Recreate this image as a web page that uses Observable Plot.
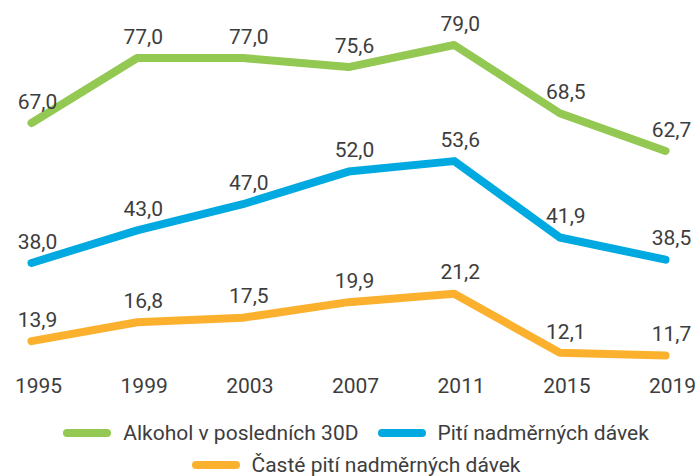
<!DOCTYPE html>
<html><head><meta charset="utf-8">
<script src="https://cdn.jsdelivr.net/npm/d3@7"></script>
<script src="https://cdn.jsdelivr.net/npm/@observablehq/plot@0.6"></script>
<style>
body{margin:0;background:#fff;font-family:Roboto,sans-serif;}
#legend{display:flex;flex-wrap:wrap;justify-content:center;width:640px;margin:7px 0 0 36px;column-gap:19px;}
.item{display:flex;align-items:center;height:32px;font-size:21px;color:#3d3d3d;white-space:nowrap;}
.sw{width:48px;height:8px;border-radius:4px;margin-right:12px;}
</style></head><body><div id="chart"></div><div id="legend"></div>
<script>
const years = [1995, 1999, 2003, 2007, 2011, 2015, 2019];
const seriesNames = ["Alkohol v posledních 30D", "Pití nadměrných dávek", "Časté pití nadměrných dávek"];
const colors = ["#93c852", "#00a9e0", "#fbb12e"];
const alkohol = [67.0, 77.0, 77.0, 75.6, 79.0, 68.5, 62.7];
const pitiNadmernych = [38.0, 43.0, 47.0, 52.0, 53.6, 41.9, 38.5];
const castePiti = [13.9, 16.8, 17.5, 19.9, 21.2, 12.1, 11.7];
const seriesValues = [alkohol, pitiNadmernych, castePiti];

const data = seriesNames.flatMap((s, k) => years.map((y, i) => ({year: y, series: s, value: seriesValues[k][i]})));

const plot = Plot.plot({
  width: 697, height: 410,
  marginLeft: 31, marginRight: 32, marginTop: 0, marginBottom: 35,
  style: {fontFamily: "Roboto, sans-serif", fontSize: "21px", color: "#3d3d3d", background: "#fff"},
  x: {domain: [1995, 2019]},
  y: {type: "linear", domain: [10, 22, 37, 54, 62, 80], range: [366, 288, 269, 158, 155, 38], axis: null},
  color: {domain: seriesNames, range: colors},
  marks: [
    Plot.axisX({ticks: years, tickFormat: d => String(d), tickSize: 0, tickPadding: 3, dx: 7, label: null, fontSize: 21, fill: "#3d3d3d"}),
    Plot.line(data, {x: "year", y: "value", z: "series", stroke: "series", strokeWidth: 8, strokeLinecap: "round", strokeLinejoin: "round"}),
    Plot.text(data, {x: "year", y: "value", text: d => d.value.toFixed(1).replace(".", ","), dy: -21, dx: 6, fill: "#3d3d3d", fontSize: 21})
  ]
});
document.getElementById("chart").append(plot);

const legend = document.getElementById("legend");
seriesNames.forEach((s, k) => {
  const item = document.createElement("div");
  item.className = "item";
  const sw = document.createElement("span");
  sw.className = "sw";
  sw.style.background = colors[k];
  item.append(sw, document.createTextNode(s));
  legend.append(item);
});
</script></body></html>
